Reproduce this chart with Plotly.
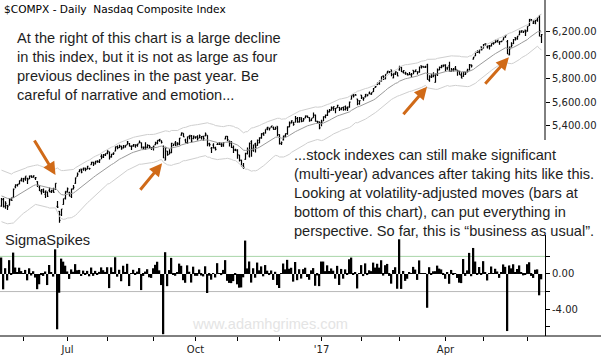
import pandas as pd
import numpy as np
import plotly.graph_objects as go

# ---------------- data (Nasdaq Composite, daily) ----------------
start_date = "2016-05-16"
end_date = "2017-06-12"
holidays = ["2016-05-30", "2016-07-04", "2016-09-05", "2016-11-24", "2016-12-26",
            "2017-01-02", "2017-01-16", "2017-02-20", "2017-04-14", "2017-05-29"]

# closes before the first plotted bar (used only for indicator warm-up)
hist_closes = [4945.89, 4938.22, 4960.02, 4940.33, 4948.13, 4945.89, 4906.23, 4895.79,
               4888.29, 4863.14, 4805.29, 4775.36, 4817.59, 4763.22, 4725.64, 4717.09,
               4736.16, 4750.21, 4809.88, 4760.69, 4737.33, 4717.68]

opens = [
    # May 2016
    4717, 4772, 4711, 4723, 4725, 4771, 4790, 4880, 4896, 4906, 4940,
    # Jun 2016
    4930, 4945, 4955, 4950, 4975, 4965, 4955, 4925, 4877, 4840, 4856, 4816, 4833, 4850, 4840,
    4851, 4860, 4715, 4672, 4643, 4730, 4784,
    # Jul 2016
    4835, 4832, 4800, 4866, 4910, 4970, 5010, 5031, 5032, 5041, 5031, 5038, 5070, 5088, 5082,
    5093, 5093, 5140, 5130, 5150,
    # Aug 2016
    5167, 5178, 5134, 5160, 5185, 5223, 5214, 5228, 5215, 5219, 5240, 5249, 5225, 5227, 5228,
    5233, 5253, 5254, 5211, 5218, 5213, 5234, 5214,
    # Sep 2016
    5217, 5240, 5257, 5276, 5273, 5225, 5108, 5185, 5158, 5170, 5230, 5255, 5252, 5250, 5321,
    5335, 5279, 5257, 5311, 5310, 5290,
    # Oct 2016
    5301, 5309, 5296, 5302, 5310, 5315, 5319, 5247, 5209, 5236, 5210, 5241, 5243, 5240, 5229,
    5289, 5310, 5270, 5265, 5215, 5198,
    # Nov 2016
    5196, 5150, 5107, 5051, 5115, 5164, 5143, 5265, 5191, 5249, 5234, 5255, 5299, 5331, 5338,
    5381, 5375, 5389, 5385, 5370, 5396,
    # Dec 2016
    5326, 5249, 5280, 5316, 5333, 5389, 5427, 5432, 5430, 5460, 5430, 5470, 5440, 5468, 5481,
    5469, 5443, 5470, 5493, 5437, 5434,
    # Jan 2017
    5425, 5441, 5476, 5490, 5517, 5533, 5550, 5547, 5555, 5556, 5546, 5555, 5564, 5547, 5562,
    5626, 5666, 5662, 5628, 5588,
    # Feb 2017
    5661, 5628, 5648, 5655, 5678, 5667, 5690, 5727, 5750, 5758, 5781, 5825, 5800, 5848, 5857,
    5877, 5808, 5837, 5852,
    # Mar 2017
    5876, 5899, 5856, 5849, 5841, 5836, 5834, 5872, 5860, 5862, 5860, 5912, 5905, 5897, 5918,
    5786, 5815, 5830, 5770, 5835, 5875, 5896, 5903,
    # Apr 2017
    5919, 5885, 5912, 5862, 5871, 5890, 5872, 5862, 5832, 5820, 5838, 5866, 5877, 5919, 5967,
    5995, 6024, 6031, 6072,
    # May 2017
    6060, 6097, 6072, 6083, 6082, 6102, 6108, 6117, 6112, 6117, 6130, 6163, 6117, 6004, 6069,
    6100, 6151, 6146, 6175, 6195, 6198, 6214,
    # Jun 2017
    6210, 6257, 6298, 6274, 6289, 6301, 6330, 6160,
]

highs = [
    4785, 4785, 4758, 4725, 4784, 4790, 4867, 4903, 4904, 4934, 4957,
    4955, 4971, 4956, 4978, 4980, 4979, 4965, 4928, 4895, 4862, 4867, 4849, 4840, 4875, 4856,
    4873, 4910, 4761, 4674, 4692, 4781, 4843,
    4875, 4838, 4866, 4896, 4960, 5002, 5031, 5034, 5045, 5042, 5059, 5044, 5094, 5095, 5101,
    5106, 5115, 5158, 5160, 5167,
    5191, 5180, 5161, 5175, 5224, 5232, 5238, 5231, 5236, 5234, 5271, 5253, 5232, 5246, 5244,
    5248, 5275, 5257, 5224, 5260, 5242, 5236, 5218,
    5230, 5264, 5276, 5288, 5275, 5232, 5222, 5186, 5200, 5255, 5248, 5271, 5261, 5297, 5343,
    5337, 5289, 5309, 5320, 5322, 5318,
    5312, 5319, 5325, 5313, 5316, 5343, 5320, 5256, 5219, 5251, 5221, 5253, 5262, 5256, 5259,
    5311, 5313, 5275, 5268, 5232, 5204,
    5200, 5153, 5111, 5084, 5170, 5215, 5257, 5276, 5238, 5255, 5283, 5302, 5337, 5345, 5369,
    5391, 5384, 5399, 5395, 5392, 5397,
    5327, 5266, 5318, 5335, 5394, 5437, 5446, 5433, 5483, 5474, 5474, 5471, 5466, 5487, 5487,
    5472, 5463, 5513, 5495, 5444, 5437,
    5452, 5482, 5496, 5537, 5542, 5564, 5564, 5552, 5580, 5559, 5556, 5564, 5573, 5564, 5606,
    5658, 5669, 5670, 5631, 5616,
    5663, 5642, 5670, 5669, 5691, 5684, 5721, 5738, 5769, 5783, 5820, 5829, 5838, 5867, 5866,
    5878, 5846, 5862, 5856,
    5911, 5901, 5872, 5859, 5850, 5858, 5849, 5873, 5877, 5863, 5904, 5912, 5907, 5912, 5928,
    5830, 5844, 5855, 5846, 5888, 5904, 5917, 5921,
    5923, 5899, 5946, 5891, 5891, 5908, 5877, 5868, 5856, 5857, 5861, 5885, 5925, 5922, 5986,
    6031, 6046, 6050, 6074,
    6096, 6103, 6084, 6087, 6101, 6111, 6133, 6130, 6119, 6123, 6151, 6171, 6130, 6074, 6111,
    6138, 6153, 6164, 6212, 6210, 6209, 6217,
    6247, 6308, 6309, 6298, 6300, 6324, 6342, 6182,
]

lows = [
    4712, 4705, 4695, 4683, 4722, 4762, 4788, 4868, 4884, 4903, 4925,
    4920, 4933, 4905, 4945, 4957, 4958, 4938, 4880, 4845, 4816, 4828, 4786, 4794, 4836, 4827,
    4830, 4856, 4700, 4574, 4632, 4729, 4772,
    4833, 4799, 4786, 4857, 4906, 4969, 5005, 4996, 5018, 5013, 5030, 5025, 5068, 5057, 5070,
    5085, 5083, 5116, 5125, 5142,
    5158, 5114, 5131, 5152, 5183, 5200, 5210, 5196, 5207, 5215, 5240, 5224, 5195, 5222, 5214,
    5222, 5253, 5207, 5198, 5193, 5210, 5211, 5195,
    5190, 5235, 5242, 5265, 5250, 5125, 5107, 5145, 5157, 5168, 5227, 5229, 5233, 5234, 5316,
    5305, 5255, 5245, 5285, 5258, 5285,
    5289, 5274, 5295, 5283, 5272, 5310, 5226, 5224, 5168, 5206, 5190, 5236, 5236, 5219, 5222,
    5286, 5269, 5223, 5211, 5169, 5185,
    5120, 5097, 5055, 5034, 5111, 5155, 5130, 5137, 5180, 5173, 5230, 5252, 5289, 5315, 5335,
    5363, 5359, 5386, 5366, 5366, 5312,
    5240, 5236, 5275, 5302, 5323, 5389, 5420, 5400, 5428, 5425, 5428, 5431, 5437, 5465, 5469,
    5435, 5441, 5469, 5435, 5421, 5370,
    5397, 5440, 5465, 5483, 5515, 5529, 5528, 5506, 5553, 5526, 5532, 5527, 5531, 5525, 5554,
    5624, 5641, 5655, 5574, 5579,
    5627, 5613, 5641, 5651, 5668, 5665, 5688, 5723, 5747, 5750, 5776, 5790, 5796, 5845, 5848,
    5822, 5805, 5833, 5821,
    5869, 5858, 5846, 5835, 5828, 5832, 5814, 5839, 5858, 5836, 5851, 5888, 5893, 5891, 5792,
    5775, 5806, 5814, 5768, 5823, 5873, 5890, 5902,
    5865, 5876, 5863, 5859, 5863, 5870, 5825, 5834, 5805, 5817, 5832, 5853, 5871, 5896, 5965,
    5993, 6020, 6016, 6040,
    6057, 6079, 6058, 6050, 6075, 6090, 6105, 6108, 6090, 6111, 6127, 6149, 6011, 6001, 6068,
    6097, 6125, 6132, 6171, 6193, 6190, 6165,
    6200, 6250, 6291, 6267, 6264, 6286, 6160, 6105,
]

closes = [
    4775.46, 4715.73, 4739.12, 4712.53, 4769.56, 4765.78, 4861.06, 4894.89, 4901.77, 4933.50, 4948.05,
    4952.25, 4971.36, 4942.52, 4968.71, 4961.75, 4974.64, 4958.62, 4894.55, 4848.44, 4843.55, 4834.93,
    4844.92, 4800.34, 4837.21, 4843.76, 4833.32, 4910.04, 4707.98, 4594.44, 4691.87, 4779.25, 4842.67,
    4862.57, 4822.90, 4859.16, 4876.81, 4956.76, 4988.64, 5022.82, 5005.73, 5034.06, 5029.59, 5055.78,
    5036.37, 5089.93, 5073.90, 5100.16, 5097.63, 5110.05, 5139.81, 5154.98, 5162.13,
    5184.20, 5137.73, 5159.74, 5166.25, 5221.12, 5213.14, 5225.48, 5204.58, 5228.40, 5232.89, 5262.02,
    5227.11, 5228.66, 5240.15, 5238.38, 5244.60, 5260.08, 5217.69, 5212.20, 5218.92, 5232.33, 5222.99, 5213.22,
    5227.21, 5249.90, 5275.91, 5283.93, 5259.48, 5125.91, 5211.89, 5155.25, 5173.77, 5249.69, 5244.57,
    5235.03, 5241.35, 5295.18, 5339.52, 5305.75, 5257.49, 5305.71, 5318.55, 5269.15, 5312.00,
    5300.87, 5289.66, 5316.02, 5306.85, 5292.40, 5328.67, 5246.79, 5239.02, 5213.33, 5214.16, 5199.82,
    5243.84, 5246.41, 5241.83, 5257.40, 5309.83, 5283.40, 5250.27, 5215.97, 5190.10, 5189.14,
    5153.58, 5105.57, 5058.41, 5046.37, 5166.17, 5193.49, 5251.07, 5208.80, 5237.11, 5218.40, 5275.62,
    5294.58, 5333.97, 5321.51, 5368.86, 5386.35, 5380.68, 5398.92, 5368.81, 5379.92, 5323.68,
    5251.11, 5255.65, 5308.89, 5333.00, 5393.76, 5417.36, 5444.50, 5412.54, 5463.83, 5436.67, 5456.85,
    5437.16, 5457.44, 5483.94, 5471.43, 5447.42, 5462.69, 5487.44, 5438.56, 5432.09, 5383.12,
    5429.08, 5477.00, 5487.94, 5521.06, 5531.82, 5551.82, 5563.65, 5547.49, 5574.12, 5538.73, 5555.65,
    5540.08, 5555.33, 5552.94, 5600.96, 5656.34, 5655.18, 5660.78, 5613.71, 5614.79,
    5642.65, 5636.20, 5666.77, 5663.55, 5674.22, 5682.45, 5715.18, 5734.13, 5763.96, 5782.57, 5819.44,
    5814.90, 5838.58, 5865.95, 5860.63, 5835.51, 5845.31, 5861.90, 5825.44,
    5904.03, 5861.22, 5870.75, 5849.18, 5833.93, 5837.55, 5838.81, 5861.73, 5875.78, 5856.82, 5900.05,
    5900.76, 5901.00, 5901.53, 5793.83, 5821.64, 5817.69, 5828.74, 5840.37, 5875.14, 5897.55, 5914.34, 5911.74,
    5894.68, 5898.61, 5864.48, 5878.95, 5877.81, 5880.93, 5866.77, 5836.16, 5805.15, 5856.79, 5849.47,
    5863.03, 5916.78, 5910.52, 5983.82, 6025.49, 6025.23, 6048.94, 6047.61,
    6091.60, 6095.37, 6072.55, 6075.34, 6100.76, 6102.66, 6120.59, 6129.14, 6115.96, 6121.23, 6149.67,
    6169.87, 6011.24, 6055.13, 6083.70, 6133.62, 6138.71, 6163.02, 6205.26, 6210.19, 6203.19, 6198.52,
    6246.83, 6305.80, 6295.68, 6275.06, 6297.38, 6321.76, 6207.92, 6175.47,
]

month_labels = {(2016, 7): "Jul", (2016, 10): "Oct", (2017, 1): "'17", (2017, 4): "Apr"}
price_ticks = [5400, 5600, 5800, 6000, 6200]
price_tick_text = ["5,400.00", "5,600.00", "5,800.00", "6,000.00", "6,200.00"]
sigma_ticks = [2, 0, -2, -4, -6]
sigma_tick_text = ["", "0.00", "", "-4.00", ""]

# ---------------- derived series ----------------
dates = pd.bdate_range(start_date, end_date, freq="C", holidays=holidays)
n = len(closes)
assert len(dates) == n and len(opens) == n and len(highs) == n and len(lows) == n, (
    len(dates), len(opens), len(highs), len(lows), n)
idx = np.arange(n)
nh = len(hist_closes)

all_c = pd.Series(hist_closes + closes, dtype=float)
ema = all_c.ewm(span=20, adjust=False).mean().iloc[nh:].to_numpy()
prev_c = all_c.shift(1).iloc[nh:].to_numpy()
h = np.array(highs, float)
l = np.array(lows, float)
tr = np.maximum(h - l, np.maximum(np.abs(h - prev_c), np.abs(l - prev_c)))
atr = pd.Series(tr).ewm(alpha=1 / 20, adjust=False).mean().to_numpy()
K = 3.0
upper = ema + K * atr
lower = ema - K * atr

ret = all_c.pct_change()
sd = ret.rolling(20).std().shift(1)
sigma = (ret / sd).iloc[nh:].to_numpy()

# month tick positions
tickvals, ticktext = [], []
for i, d in enumerate(dates):
    if i == 0:
        continue
    if d.month != dates[i - 1].month:
        tickvals.append(i)
        ticktext.append(month_labels.get((d.year, d.month), ""))

# ---------------- figure ----------------
W, H = 601, 355
PW, PH = 545, 336            # plot area (pixels)
split = 235                  # pixel row where the sigma panel begins
dom_split = 1 - split / PH

def px(xp):
    return xp / PW

def py(yp):
    return 1 - yp / PH

fig = go.Figure()
fig.add_trace(go.Scatter(x=idx, y=upper, mode="lines", line=dict(color="#cfcfcf", width=1),
                         hoverinfo="skip"))
fig.add_trace(go.Scatter(x=idx, y=lower, mode="lines", line=dict(color="#cfcfcf", width=1),
                         hoverinfo="skip"))
fig.add_trace(go.Scatter(x=idx, y=ema, mode="lines", line=dict(color="#9a9a9a", width=1),
                         hoverinfo="skip"))
fig.add_trace(go.Ohlc(x=idx, open=opens, high=highs, low=lows, close=closes,
                      increasing=dict(line=dict(color="black", width=1.2)),
                      decreasing=dict(line=dict(color="black", width=1.2)),
                      tickwidth=0.5, xaxis="x", yaxis="y"))
fig.add_trace(go.Bar(x=idx, y=sigma, marker=dict(color="black", line=dict(width=0)),
                     width=0.75, xaxis="x", yaxis="y2"))

tickfont = dict(family="DejaVu Sans", size=10, color="#222")
fig.update_layout(
    width=W, height=H,
    margin=dict(l=0, r=W - PW, t=0, b=H - PH),
    paper_bgcolor="white", plot_bgcolor="white",
    showlegend=False,
    xaxis=dict(domain=[0, 1], range=[-0.75, 271.75], anchor="y2",
               tickvals=tickvals, ticktext=ticktext, ticks="outside", ticklen=4,
               tickcolor="black", showgrid=False, zeroline=False, showline=False,
               rangeslider=dict(visible=False), tickfont=tickfont),
    yaxis=dict(domain=[dom_split, 1], range=[4470.6, 6470.6], side="right", anchor="x",
               tickvals=price_ticks, ticktext=price_tick_text, ticks="outside", ticklen=4,
               tickcolor="black", showgrid=False, zeroline=False, showline=False,
               tickfont=tickfont),
    yaxis2=dict(domain=[0, dom_split], range=[-7.05, 4.43], side="right", anchor="x",
                tickvals=sigma_ticks, ticktext=sigma_tick_text, ticks="outside", ticklen=4,
                tickcolor="black", showgrid=False, zeroline=False, showline=True,
                linecolor="black", linewidth=1, tickfont=tickfont),
)

shapes = [
    dict(type="line", xref="paper", yref="y2", x0=0, x1=1, y0=2, y1=2,
         line=dict(color="#a8d5a8", width=1), layer="below"),
    dict(type="line", xref="paper", yref="y2", x0=0, x1=1, y0=-2, y1=-2,
         line=dict(color="#b8b8b8", width=1), layer="below"),
    dict(type="line", xref="paper", yref="paper", x0=1, x1=1, y0=1, y1=py(140),
         line=dict(color="black", width=1)),
    dict(type="line", xref="paper", yref="paper", x0=0, x1=W / PW, y0=0, y1=0,
         line=dict(color="black", width=1)),
]
fig.update_layout(shapes=shapes)

txt_font = dict(family="Liberation Sans, Arial, sans-serif", size=14.6, color="#1e1e1e")
ann = []
ann.append(dict(xref="paper", yref="paper", x=px(2), y=py(9), xanchor="left", yanchor="middle",
                text="$COMPX - Daily  Nasdaq Composite Index", showarrow=False,
                font=dict(family="DejaVu Sans", size=10.6, color="black")))
ann.append(dict(xref="paper", yref="paper", x=px(15), y=py(66.5), xanchor="left",
                yanchor="middle", align="left", showarrow=False, font=txt_font,
                text="At the right of this chart is a large decline<br>"
                     "in this index, but it is not as large as four<br>"
                     "previous declines in the past year. Be<br>"
                     "careful of narrative and emotion..."))
ann.append(dict(xref="paper", yref="paper", x=px(292), y=py(193.5), xanchor="left",
                yanchor="middle", align="left", showarrow=False, font=txt_font,
                text="...stock indexes can still make significant<br>"
                     "(multi-year) advances after taking hits like this.<br>"
                     "Looking at volatility-adjusted moves (bars at<br>"
                     "bottom of this chart), can put everything in<br>"
                     "perspective. So far, this is \u201cbusiness as usual\u201d."))
ann.append(dict(xref="paper", yref="paper", x=px(3), y=py(240), xanchor="left",
                yanchor="middle", showarrow=False, text="SigmaSpikes", font=txt_font))
ann.append(dict(xref="paper", yref="paper", x=px(270), y=py(324), xanchor="center",
                yanchor="middle", showarrow=False, text="www.adamhgrimes.com",
                font=dict(family="Liberation Sans, Arial, sans-serif", size=14.6,
                          color="#e4e4e4")))

orange = "#d06a18"
arrows = [  # tip (bar index, price), tail offset in pixels
    (27.0, 4981, -22, -36),
    (80.3, 5081, -23, 28),
    (212.8, 5733, -25, 29),
    (253.7, 5983, -25, 28),
]
for xi, yp, ax, ay in arrows:
    ann.append(dict(xref="x", yref="y", x=xi, y=yp, ax=ax, ay=ay, text="",
                    showarrow=True, arrowhead=2, arrowsize=0.85, arrowwidth=3,
                    arrowcolor=orange, standoff=0))
fig.update_layout(annotations=ann)

fig.write_html("out.html", config={"displayModeBar": False},
               post_script="document.body.style.margin='0';")
